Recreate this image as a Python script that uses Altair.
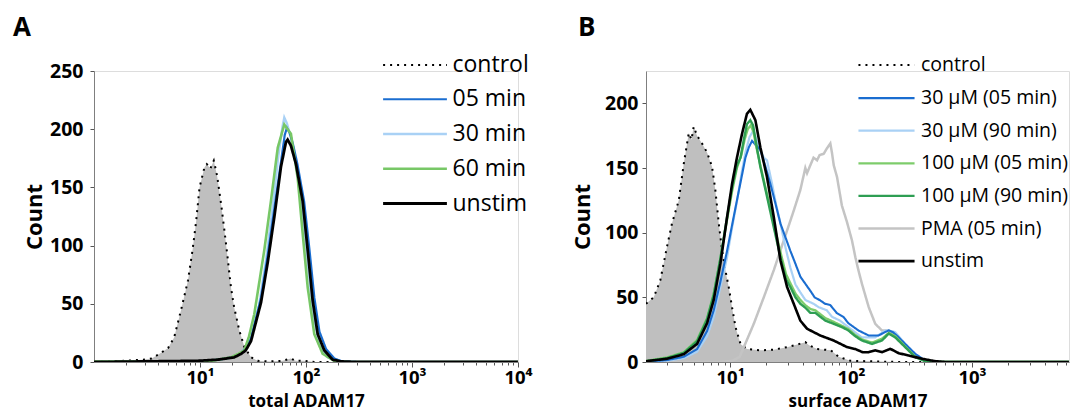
import altair as alt
import pandas as pd

# ---------------- Panel A (total ADAM17) ----------------
A_order = ["control", "05 min", "30 min", "60 min", "unstim"]
A_colors = ["#000000", "#1a6dd0", "#a9d1f5", "#77c766", "#000000"]
A_dash = [[2, 5], [1, 0], [1, 0], [1, 0], [1, 0]]
A_width = [2, 2.8, 2.8, 2.8, 1.7]
A_draw = ["control", "30 min", "05 min", "60 min", "unstim"]

A_ctrl_x = [1.0, 1.9, 2.9, 3.5, 4.3, 5.0, 5.7, 6.6, 7.7, 8.5, 9.2, 9.9, 11.0, 11.6, 12.5, 13.5, 14.5,
            15.8, 17.0, 18.2, 19.6, 21.0, 23.5, 26.2, 30.3, 35.0, 45.0, 60.0, 72.0, 80.0, 95.0, 120.0,
            200.0, 10000.0]
A_ctrl_y = [0, 1, 2, 3, 8, 12, 21, 44, 70, 96, 121, 150, 167, 170, 166, 173, 160, 136, 113, 90, 64,
            47, 27, 13, 4, 1, 0.5, 1, 3, 1, 1, 0, 0, 0]

A_unst_x = [1, 9.5, 14.7, 21, 24.4, 27, 30.3, 37.6, 43.6, 50.3, 58.1, 64.7, 67.1, 72, 80.5, 93.1,
            103.8, 115.6, 128.9, 148.8, 178.6, 214, 300, 10000]
A_unst_y = [0, 1, 2, 4, 7, 10, 18, 51, 86, 125, 168, 189, 191, 186, 170, 138, 96, 53, 24, 10, 2,
            0.5, 0, 0]

A_05_x = [1, 10, 15, 20, 24, 27, 30.3, 37.6, 43.6, 50.3, 58.1, 63, 66, 70, 75, 83, 96, 108, 120,
          134, 155, 185, 220, 300, 10000]
A_05_y = [0, 0.5, 2, 4, 7, 12, 20, 55, 92, 132, 172, 195, 201, 197, 188, 170, 138, 96, 55, 26, 11,
          3, 0.5, 0, 0]

A_30_x = [1, 10, 15, 20, 24, 27, 30.3, 36, 42, 48, 55, 60, 62.4, 66, 72, 82, 94, 105, 118, 135,
          160, 200, 260, 10000]
A_30_y = [0, 0.5, 2, 4, 7, 12, 22, 48, 88, 130, 178, 202, 210, 205, 193, 165, 122, 80, 38, 14, 4,
          1, 0, 0]

A_60_x = [1, 5, 12, 19.6, 23, 26.2, 29, 32.5, 40.4, 46.8, 54.1, 62.4, 72.1, 83.5, 93.1, 103.8,
          119.7, 143.8, 185, 250, 10000]
A_60_y = [0.3, 0.3, 0.5, 4, 7, 10, 22, 41, 96, 139, 184, 204, 196, 158, 110, 64, 24, 7, 1, 0, 0]

A_xticks = [2, 3, 4, 5, 6, 7, 8, 9, 10, 20, 30, 40, 50, 60, 70, 80, 90, 100, 200, 300, 400, 500,
            600, 700, 800, 900, 1000, 2000, 3000, 4000, 5000, 6000, 7000, 8000, 9000, 10000]
A_yticks = [0, 25, 50, 75, 100, 125, 150, 175, 200, 225, 250]

# ---------------- Panel B (surface ADAM17) ----------------
B_order = ["control", "30 µM (05 min)", "30 µM (90 min)", "100 µM (05 min)", "100 µM (90 min)",
           "PMA (05 min)", "unstim"]
B_colors = ["#000000", "#1a6dd0", "#a9d1f5", "#7dcc6b", "#2e9e53", "#c4c4c4", "#000000"]
B_dash = [[2, 5], [1, 0], [1, 0], [1, 0], [1, 0], [1, 0], [1, 0]]
B_width = [2, 2.6, 2.6, 2.6, 2.6, 1.3, 1.6]
B_draw = ["control", "PMA (05 min)", "30 µM (90 min)", "30 µM (05 min)", "100 µM (05 min)",
          "100 µM (90 min)", "unstim"]

B_ctrl_x = [2.02, 2.34, 2.65, 3.01, 3.31, 3.77, 4.14, 4.56, 4.8, 5.01, 5.34, 5.87, 6.46, 7.1, 7.56,
            8.07, 8.6, 9.15, 9.75, 10.4, 11.1, 12.2, 13.8, 17.8, 22.9, 29.6, 35.8, 41.9, 45, 52.4,
            61, 68, 79, 98.6, 150, 250, 6330]
B_ctrl_y = [45, 50, 63, 89, 107, 125, 153, 177, 172, 182, 175, 169, 162, 151, 133, 107, 86, 71, 58,
            42, 27, 14, 10, 9, 9.5, 11.5, 13.5, 15.3, 13, 10, 9.5, 9, 4, 1, 0.5, 0, 0]

B_unst_x = [2.02, 3.01, 4.14, 5.34, 6.46, 7.33, 8.32, 9.45, 10.4, 11.4, 12.6, 13.8, 14.7, 16.2, 17.8,
            20.2, 23, 26.1, 29.6, 33.6, 38.1, 43.3, 55.7, 71.9, 92.7, 108.6, 125, 140, 158.6, 180,
            211, 248, 300, 386, 498, 600, 6330]
B_unst_y = [0.6, 2.5, 6, 14, 30, 48, 76, 112, 138, 158, 177, 192, 195, 187, 166, 143, 112, 78.5, 58,
            45, 32, 25.7, 20.5, 16.6, 11.5, 10, 7.5, 7.6, 9, 7.6, 10.2, 6.8, 5, 2.5, 0.6, 0, 0]

B_g90_x = [2.02, 3.01, 4.14, 5.34, 6.46, 7.33, 8.32, 9.45, 10.4, 11.4, 12.2, 13, 13.8, 14.7, 15.5,
           16.5, 17.8, 20.2, 23, 26.1, 29, 31.5, 34.7, 38.1, 41.9, 46.1, 50.7, 55.7, 61.3, 72, 84,
           95, 108, 123, 149, 180, 205, 232, 280, 340, 410, 500, 6330]
B_g90_y = [0.6, 3, 7, 16, 33, 52, 80, 112, 135, 152, 158, 172, 184, 187, 183, 168, 151, 128, 104,
           81, 64, 58, 50, 45, 42, 38, 38, 35, 32, 29.5, 27, 24.4, 20, 16.6, 14, 16.6, 22, 19, 11.5,
           3.7, 0.6, 0, 0]

B_g05_x = [2.02, 3.01, 4.14, 5.34, 6.46, 7.33, 8.32, 9.45, 10.4, 11.4, 12.4, 13.2, 14.0, 14.8, 15.6,
           16.5, 17.8, 20.2, 23, 26.1, 29, 31.5, 34.7, 38.1, 41.9, 46.1, 50.7, 55.7, 61.3, 72, 84,
           95, 108, 123, 149, 180, 205, 232, 280, 340, 410, 500, 6330]
B_g05_y = [0.8, 3.5, 7.5, 17, 34, 53, 80, 110, 132, 150, 160, 172, 180, 183, 178, 166, 152, 130,
           107, 85, 68, 61, 53, 48, 44, 41, 40, 37, 34, 31, 28, 25.5, 21, 17.5, 15, 18, 22.5, 20, 12,
           4, 0.8, 0, 0]

B_b05_x = [2.02, 3.01, 4.14, 5.34, 6.46, 7.33, 8.32, 9.45, 10.4, 11.4, 12.4, 13.4, 14.3, 15.2, 16.2,
           17.8, 19.5, 21.5, 23.8, 26.1, 28.8, 31.5, 34.7, 38.1, 41.9, 46.1, 50, 55.7, 61, 67.4, 76,
           86.8, 95, 115, 140, 169, 190, 205, 222, 239, 280, 340, 410, 500, 6330]
B_b05_y = [0.3, 1.5, 4, 10, 24, 40, 62, 86, 106, 125, 142, 158, 166, 171, 168, 164, 152, 138, 122,
           107, 96, 86, 76, 66, 60.5, 55, 50, 47.6, 45, 44, 38, 34.7, 30, 24.4, 20.5, 20.5, 23,
           24.4, 23, 20.5, 14, 6.3, 1, 0, 0]

B_b90_x = [2.02, 3.01, 4.14, 5.34, 6.46, 7.33, 8.32, 9.45, 10.4, 11.4, 12.4, 13.4, 14.5, 15.6, 16.5,
           17.8, 19, 20.2, 22, 24, 26.1, 28.8, 31.5, 34.7, 38, 41.9, 49, 54, 63, 69.5, 81, 95, 108,
           123, 158, 193, 215, 232, 280, 340, 410, 500, 6330]
B_b90_y = [0.2, 1, 3, 8, 20, 35, 58, 81, 104, 124, 145, 162, 174, 179, 172, 164, 158, 156, 140,
           122, 107, 88, 73, 60, 54, 48, 45, 42.4, 40, 35, 32, 27, 23, 19, 19, 24.4, 24, 23, 14,
           5.5, 1, 0, 0]

B_pma_x = [2.02, 8, 10.5, 12, 13, 15.7, 19, 23, 27.8, 33.6, 38.1, 41.9, 43.3, 46, 49, 52.4, 55,
           59.5, 63, 67.4, 69.5, 72, 76.6, 84, 92.7, 101.8, 108.6, 115, 123, 140, 158.6, 180, 205,
           239, 280, 340, 410, 500, 6330]
B_pma_y = [0, 0, 1, 4, 11.5, 29.5, 50, 71, 94, 117, 133, 150, 146, 152, 158, 156, 160, 161, 165,
           169, 162, 152, 143, 121, 108, 94, 81, 71, 60.5, 42.4, 29.5, 24.4, 24.4, 19, 12.8, 5, 1,
           0, 0]

B_xticks = [3, 4, 5, 6, 7, 8, 9, 10, 20, 30, 40, 50, 60, 70, 80, 90, 100, 200, 300, 400, 500, 600,
            700, 800, 900, 1000, 2000, 3000, 4000, 5000, 6000]
B_yticks = [0, 25, 50, 75, 100, 125, 150, 175, 200, 225]

FONT = "Open Sans"
SUP = ("datum.value == 10 ? '10\u00b9' : datum.value == 100 ? '10\u00b2' : "
       "datum.value == 1000 ? '10\u00b3' : datum.value == 10000 ? '10\u2074' : ''")
MAJOR = "datum.value == 10 || datum.value == 100 || datum.value == 1000 || datum.value == 10000"


def long(series_map):
    rows = []
    for name, (xs, ys) in series_map.items():
        for i, (x, y) in enumerate(zip(xs, ys)):
            rows.append({"series": name, "x": x, "y": y, "i": i})
    return pd.DataFrame(rows)


def panel(df, ctrl_df, order, colors, dashes, widths, draw, xdom, ydom, xticks, yticks,
          xtitle, label, width, legx, legy, rowpad, sympath, laboff, legfont, ytitlex, ylabpad,
          tdx):
    xs = alt.Scale(type="log", domain=xdom, nice=False)
    ys = alt.Scale(domain=ydom, nice=False, zero=True)
    xaxis = alt.Axis(values=xticks, labelExpr=SUP, title=xtitle, grid=False,
                     labelOverlap=False, labelFlush=False, labelBound=False,
                     tickSize={"condition": {"test": MAJOR, "value": 5}, "value": 3},
                     labelFont=FONT, labelFontSize=18.5, labelFontWeight="bold", labelColor="black",
                     labelBaseline="alphabetic", labelPadding=16.5,
                     titleFont=FONT, titleFontSize=17, titleFontWeight="bold", titleColor="black",
                     titleBaseline="alphabetic", titleY=44,
                     domainColor="#7f7f7f", tickColor="#555555")
    yaxis = alt.Axis(values=yticks, labelExpr="datum.value % 50 == 0 ? datum.label : ''",
                     title="Count", grid=False, labelOverlap=False, tickSize=4,
                     labelFont=FONT, labelFontSize=19.5, labelFontWeight="bold", labelColor="black",
                     labelPadding=ylabpad,
                     titleFont=FONT, titleFontSize=22, titleFontWeight="bold", titleColor="black",
                     titleX=ytitlex, domainColor="#7f7f7f", tickColor="#555555")
    leg = alt.Legend(title=None, orient="none", legendX=legx, legendY=legy, padding=0,
                     symbolType=sympath, symbolSize=484, labelFont=FONT, labelFontSize=legfont,
                     labelColor="black", rowPadding=rowpad, labelOffset=laboff, labelLimit=400,
                     symbolOpacity=1)
    area = alt.Chart(ctrl_df).mark_area(color="#bfbfbf", opacity=1, clip=True).encode(
        x=alt.X("x:Q", scale=xs, axis=xaxis),
        y=alt.Y("y:Q", scale=ys, axis=yaxis),
    )
    layers = [area]
    for s in draw:
        layers.append(
            alt.Chart(df).transform_filter(alt.datum.series == s)
            .mark_line(clip=True, interpolate="linear")
            .encode(
                x=alt.X("x:Q", scale=xs),
                y=alt.Y("y:Q", scale=ys),
                color=alt.Color("series:N", scale=alt.Scale(domain=order, range=colors), legend=leg),
                strokeDash=alt.StrokeDash("series:N", scale=alt.Scale(domain=order, range=dashes),
                                          legend=leg),
                strokeWidth=alt.StrokeWidth("series:N", scale=alt.Scale(domain=order, range=widths),
                                            legend=leg),
                order="i:Q",
            )
        )
    return alt.layer(*layers).properties(
        width=width, height=291,
        title=alt.TitleParams(label, anchor="start", frame="group", dx=tdx, fontSize=26,
                              fontWeight="bold", font=FONT, color="black", offset=-9,
                              baseline="alphabetic"),
    )


A_df = long({"control": (A_ctrl_x, A_ctrl_y), "05 min": (A_05_x, A_05_y),
             "30 min": (A_30_x, A_30_y), "60 min": (A_60_x, A_60_y),
             "unstim": (A_unst_x, A_unst_y)})
A_ctrl = long({"control": (A_ctrl_x, A_ctrl_y)})

B_df = long({"control": (B_ctrl_x, B_ctrl_y), "30 µM (05 min)": (B_b05_x, B_b05_y),
             "30 µM (90 min)": (B_b90_x, B_b90_y), "100 µM (05 min)": (B_g05_x, B_g05_y),
             "100 µM (90 min)": (B_g90_x, B_g90_y), "PMA (05 min)": (B_pma_x, B_pma_y),
             "unstim": (B_unst_x, B_unst_y)})
B_ctrl = long({"control": (B_ctrl_x, B_ctrl_y)})

chartA = panel(A_df, A_ctrl, A_order, A_colors, A_dash, A_width, A_draw, [1, 10000], [0, 250],
               A_xticks, A_yticks, "total ADAM17", "A", 424, 308.5, -18, 9.75, "M-2.9,0H2.9", 25,
               23, -48, 7, -81)
chartB = panel(B_df, B_ctrl, B_order, B_colors, B_dash, B_width, B_draw, [2.02, 6330], [0, 225],
               B_xticks, B_yticks, "surface ADAM17", "B", 423, 228, -18, 10.6, "M-2.55,0H2.55",
               22, 19.5, -52, 4, -68)

chart = alt.hconcat(chartA, chartB, spacing=128, bounds="flush").resolve_scale(
    color="independent", strokeDash="independent", strokeWidth="independent",
    x="independent", y="independent"
).properties(
    padding={"left": 4, "top": 6, "right": 0, "bottom": 0}
).configure_view(stroke=None).configure(background="white")

chart.save("out.html", embed_options={"renderer": "svg", "actions": False})
